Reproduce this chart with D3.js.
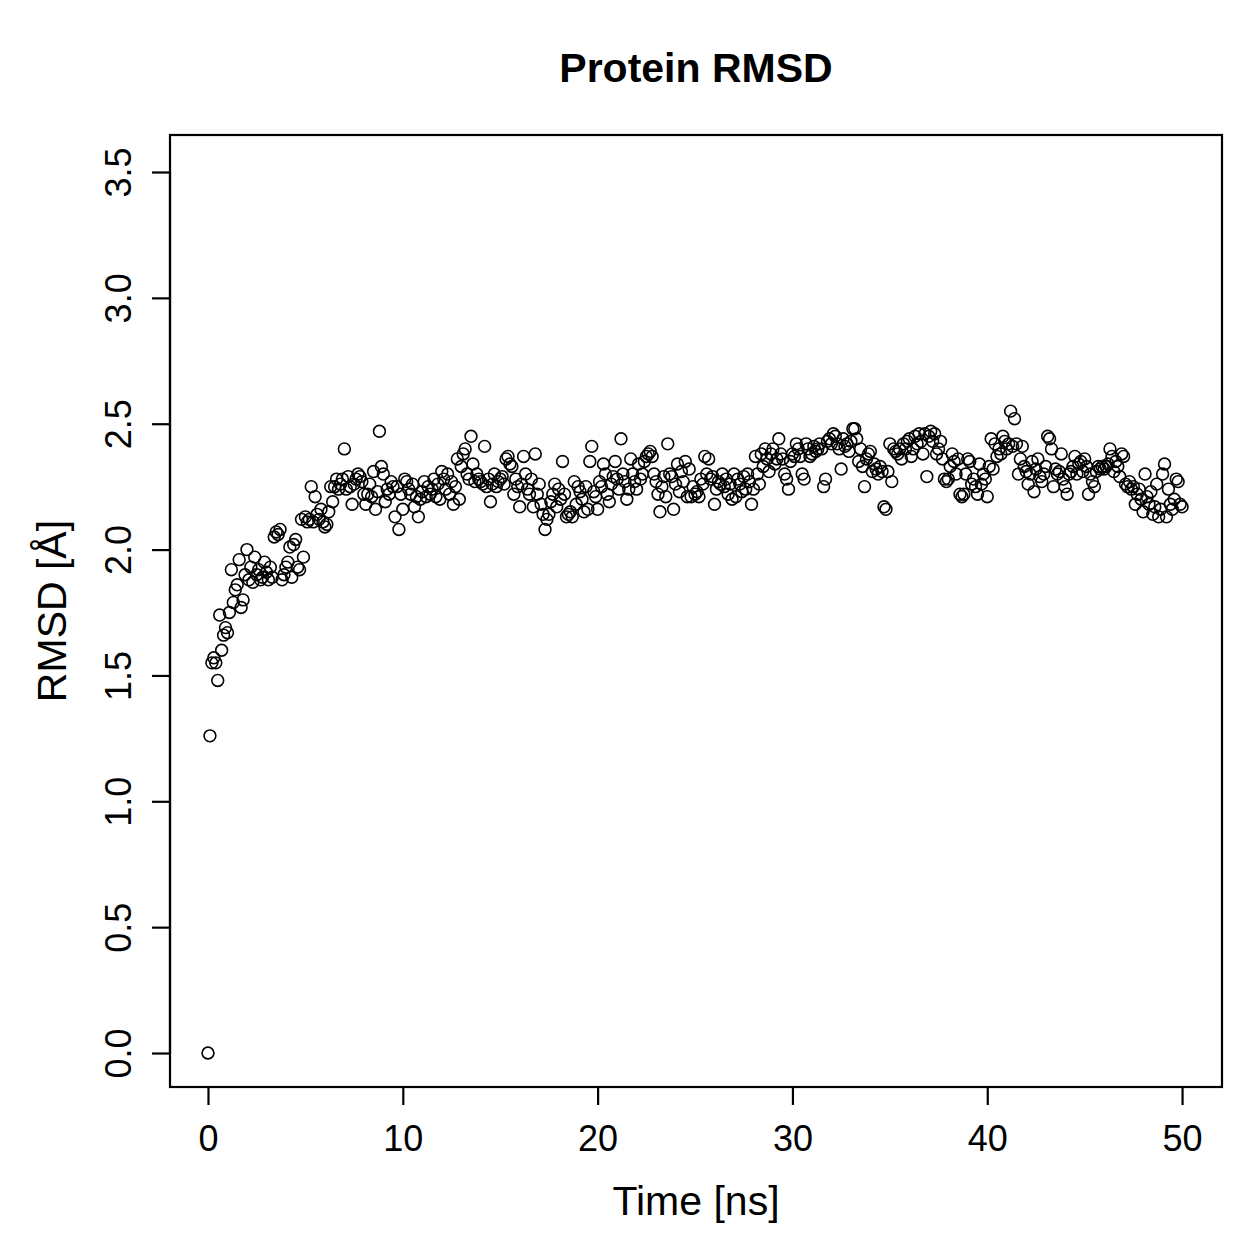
<!DOCTYPE html>
<html><head><meta charset="utf-8">
<script src="https://cdn.jsdelivr.net/npm/d3@7"></script>
<style>body{margin:0;background:#fff}svg{display:block}</style>
</head><body>
<svg id="c" width="1259" height="1259"></svg>
<script>
const title = "Protein RMSD";
const xLabel = "Time [ns]";
const yLabel = "RMSD [Å]";
const xTicks = [0, 10, 20, 30, 40, 50];
const yTicks = [0.0, 0.5, 1.0, 1.5, 2.0, 2.5, 3.0, 3.5];
const timeStep = 0.1; // ns between frames
const rmsd = [
0.00,1.26,1.55,1.57,1.55,1.48,1.74,1.60,1.66,1.69,
1.67,1.75,1.92,1.79,1.84,1.86,1.96,1.77,1.80,1.90,
2.00,1.88,1.93,1.87,1.97,1.90,1.92,1.88,1.89,1.95,
1.91,1.88,1.93,1.89,2.05,2.07,2.06,2.08,1.88,1.90,
1.93,1.95,2.01,1.89,2.02,2.04,1.93,1.92,2.12,1.97,
2.13,2.11,2.12,2.25,2.11,2.21,2.14,2.12,2.16,2.11,
2.09,2.10,2.15,2.25,2.19,2.25,2.28,2.24,2.26,2.28,
2.40,2.24,2.29,2.25,2.18,2.26,2.28,2.30,2.29,2.27,
2.22,2.18,2.22,2.26,2.21,2.31,2.16,2.23,2.47,2.33,
2.30,2.19,2.24,2.22,2.27,2.25,2.13,2.25,2.08,2.22,
2.16,2.28,2.27,2.24,2.22,2.26,2.17,2.21,2.13,2.20,
2.23,2.27,2.21,2.25,2.22,2.24,2.28,2.21,2.26,2.20,
2.31,2.28,2.24,2.30,2.22,2.27,2.18,2.25,2.36,2.20,
2.33,2.38,2.40,2.30,2.28,2.45,2.34,2.27,2.30,2.28,
2.27,2.26,2.41,2.25,2.28,2.19,2.26,2.30,2.25,2.27,
2.28,2.29,2.26,2.36,2.37,2.34,2.33,2.22,2.28,2.25,
2.17,2.26,2.37,2.30,2.24,2.22,2.28,2.17,2.38,2.22,
2.26,2.18,2.14,2.08,2.12,2.14,2.19,2.22,2.26,2.17,
2.24,2.20,2.35,2.22,2.13,2.14,2.15,2.13,2.27,2.18,
2.25,2.23,2.20,2.15,2.25,2.16,2.35,2.41,2.23,2.21,
2.16,2.27,2.25,2.34,2.30,2.22,2.19,2.26,2.29,2.35,
2.28,2.24,2.44,2.30,2.27,2.20,2.24,2.36,2.30,2.27,
2.24,2.34,2.28,2.30,2.35,2.37,2.38,2.39,2.37,2.30,
2.27,2.22,2.15,2.25,2.29,2.21,2.42,2.30,2.29,2.16,
2.26,2.34,2.23,2.31,2.27,2.35,2.21,2.32,2.21,2.25,
2.22,2.23,2.21,2.28,2.26,2.37,2.30,2.36,2.28,2.29,
2.18,2.24,2.27,2.26,2.30,2.25,2.28,2.22,2.26,2.20,
2.30,2.21,2.28,2.26,2.23,2.29,2.24,2.30,2.27,2.18,
2.24,2.37,2.30,2.26,2.38,2.33,2.40,2.36,2.31,2.38,
2.40,2.34,2.36,2.44,2.38,2.36,2.30,2.28,2.24,2.35,
2.38,2.37,2.42,2.40,2.37,2.30,2.28,2.42,2.40,2.37,
2.38,2.41,2.39,2.40,2.42,2.40,2.25,2.28,2.43,2.44,
2.42,2.46,2.45,2.42,2.40,2.32,2.44,2.41,2.42,2.39,
2.43,2.48,2.48,2.44,2.35,2.40,2.33,2.25,2.36,2.38,
2.39,2.31,2.34,2.32,2.30,2.33,2.31,2.17,2.16,2.31,
2.42,2.27,2.40,2.39,2.38,2.40,2.36,2.42,2.40,2.43,
2.44,2.37,2.40,2.45,2.42,2.46,2.43,2.38,2.46,2.29,
2.45,2.47,2.43,2.46,2.38,2.40,2.43,2.36,2.28,2.27,
2.28,2.33,2.38,2.35,2.30,2.36,2.22,2.21,2.22,2.30,
2.36,2.35,2.26,2.28,2.25,2.22,2.34,2.26,2.30,2.28,
2.21,2.33,2.44,2.32,2.42,2.37,2.40,2.38,2.45,2.43,
2.40,2.42,2.55,2.41,2.52,2.42,2.30,2.36,2.41,2.33,
2.31,2.26,2.30,2.35,2.23,2.32,2.36,2.29,2.27,2.30,
2.33,2.45,2.44,2.40,2.25,2.32,2.30,2.31,2.38,2.28,
2.25,2.22,2.30,2.31,2.33,2.37,2.30,2.34,2.35,2.31,
2.36,2.33,2.22,2.30,2.27,2.25,2.31,2.33,2.32,2.33,
2.32,2.33,2.34,2.40,2.37,2.31,2.35,2.33,2.29,2.38,
2.37,2.26,2.25,2.27,2.24,2.25,2.18,2.22,2.24,2.20,
2.15,2.30,2.21,2.18,2.23,2.14,2.17,2.26,2.13,2.16,
2.30,2.34,2.13,2.24,2.18,2.16,2.20,2.28,2.27,2.18,
2.17
];

const data = rmsd.map((v, i) => ({t: +(i * timeStep).toFixed(1), v}));

const svg = d3.select("#c");
const box = {l: 170, r: 1222, t: 135, b: 1087};
const x = d3.scaleLinear().domain([-1.95, 52.05]).range([box.l, box.r]);
const y = d3.scaleLinear().domain([-0.135, 3.647]).range([box.b, box.t]);
const font = "Liberation Sans, Arial, Helvetica, sans-serif";

svg.append("rect").attr("width", 1259).attr("height", 1259).attr("fill", "#fff");

// points
svg.append("g").selectAll("circle").data(data).join("circle")
  .attr("cx", d => x(d.t)).attr("cy", d => y(d.v)).attr("r", 5.9)
  .attr("fill", "none").attr("stroke", "#000").attr("stroke-width", 1.6);

// box
svg.append("rect").attr("x", box.l).attr("y", box.t)
  .attr("width", box.r - box.l).attr("height", box.b - box.t)
  .attr("fill", "none").attr("stroke", "#000").attr("stroke-width", 2.2);

// x axis
const xAxis = d3.axisBottom(x).tickValues(xTicks).tickSize(18).tickPadding(20).tickFormat(d3.format("d"));
const gx = svg.append("g").attr("transform", `translate(0,${box.b})`).call(xAxis);
gx.select(".domain").attr("d", `M${x(xTicks[0])},0H${x(xTicks[xTicks.length-1])}`).attr("stroke-width", 2.2);
gx.selectAll(".tick line").attr("stroke-width", 2.2);
gx.selectAll("text").attr("font-family", font).attr("font-size", 36).attr("fill", "#000");

// y axis
const yAxis = d3.axisLeft(y).tickValues(yTicks).tickSize(18).tickFormat(d3.format(".1f"));
const gy = svg.append("g").attr("transform", `translate(${box.l},0)`).call(yAxis);
gy.select(".domain").attr("d", `M0,${y(yTicks[0])}V${y(yTicks[yTicks.length-1])}`).attr("stroke-width", 2.2);
gy.selectAll(".tick line").attr("stroke-width", 2.2);
gy.selectAll(".tick text")
  .attr("font-family", font).attr("font-size", 36).attr("fill", "#000")
  .attr("x", null).attr("dy", null)
  .attr("text-anchor", "middle")
  .attr("transform", "translate(-39,0) rotate(-90)");

// title
svg.append("text").attr("x", (box.l + box.r) / 2).attr("y", 82)
  .attr("text-anchor", "middle").attr("font-family", font)
  .attr("font-weight", "bold").attr("font-size", 41).text(title);

// axis labels
svg.append("text").attr("x", (box.l + box.r) / 2).attr("y", 1215)
  .attr("text-anchor", "middle").attr("font-family", font)
  .attr("font-size", 41).text(xLabel);
svg.append("text").attr("transform", `translate(66,${(box.t + box.b) / 2}) rotate(-90)`)
  .attr("text-anchor", "middle").attr("font-family", font)
  .attr("font-size", 41).text(yLabel);
</script>
</body></html>
